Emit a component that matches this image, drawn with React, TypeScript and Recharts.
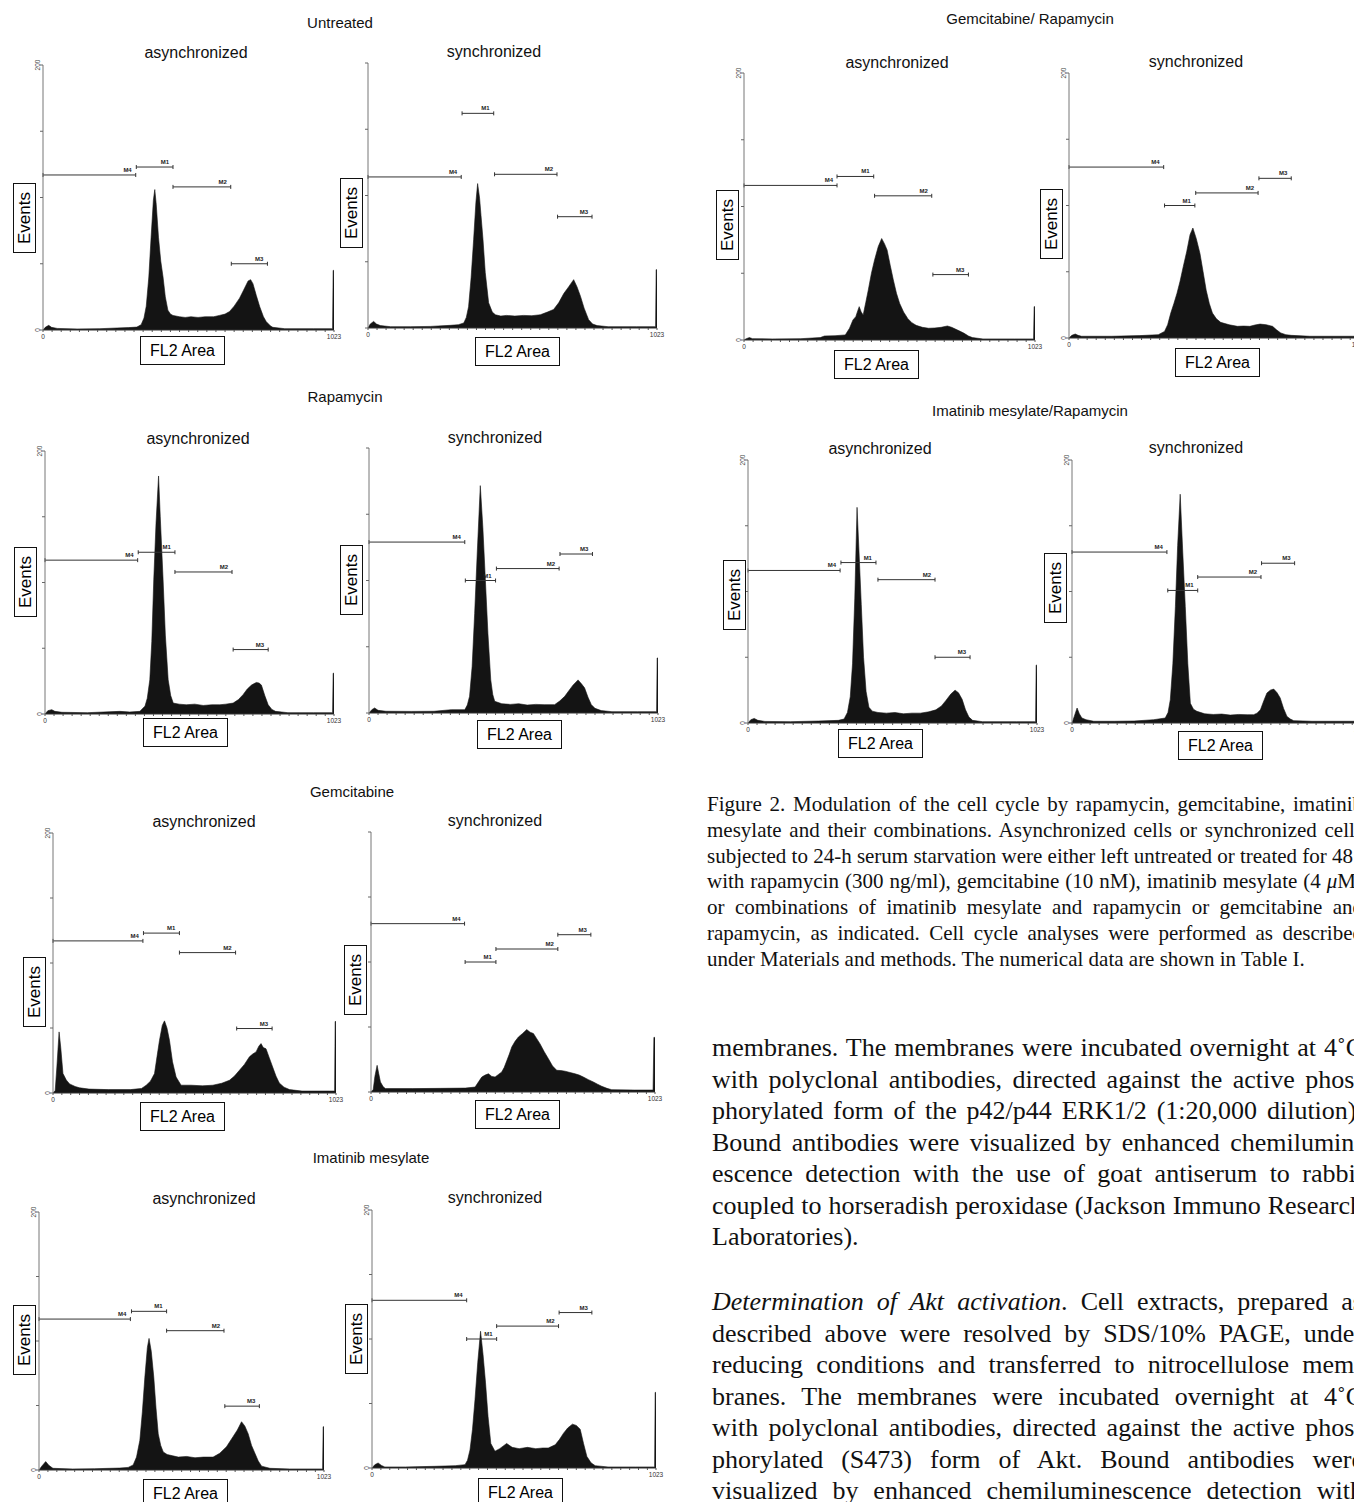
import React from 'react'
import { AreaChart, Area, XAxis, YAxis, ReferenceLine } from 'recharts'

// FL2-area histograms (channel, events)
const UNTREATED_ASYNC = [
  [0, 0], [8, 2], [20, 3.5], [30, 2], [50, 1.2], [120, 0.8], [200, 1], [260, 1.5], [300, 1.8], [330, 2.2],
  [345, 4], [355, 9], [363, 18], [372, 40], [380, 70], [388, 98], [393, 106], [398, 95], [406, 70], [414, 52],
  [422, 40], [430, 25], [439, 15], [448, 12], [457, 11], [480, 10], [500, 9.5], [520, 10], [545, 9.5], [570, 10],
  [600, 10], [620, 11], [640, 12], [656, 14], [672, 18], [691, 24], [705, 30], [721, 37], [730, 38], [738, 35],
  [750, 26], [762, 17.5], [775, 10], [785, 6.3], [800, 3], [808, 2], [850, 1], [950, 1], [1015, 1], [1018, 1],
  [1020, 45], [1023, 45],
]
const UNTREATED_SYNC = [
  [0, 0], [8, 3], [20, 5], [30, 3], [44, 1.8], [80, 1], [150, 1], [220, 1.2], [291, 2], [320, 2.5],
  [339, 3.8], [348, 8], [356, 16], [365, 38], [374, 67], [382, 95], [388, 109], [395, 98], [400, 85], [407, 67],
  [415, 42], [427, 19], [440, 12], [451, 10], [470, 9], [490, 9.5], [520, 9], [550, 9.5], [580, 9.3], [610, 10],
  [635, 12], [657, 14], [675, 19], [693, 26], [710, 31], [728, 36.5], [740, 31], [752, 24], [765, 15], [781, 6.3],
  [795, 3], [811, 1.8], [850, 1], [950, 1], [1015, 1], [1018, 1], [1020, 44], [1023, 44],
]
const RAPA_ASYNC = [
  [0, 0], [10, 2.5], [24, 3.3], [35, 2], [60, 1.3], [150, 1], [265, 2], [300, 1.5], [336, 2], [354, 6],
  [362, 12], [371, 26], [378, 55], [385, 102], [393, 145], [402, 181], [408, 150], [418, 102], [426, 60], [436, 26],
  [445, 14], [454, 8.3], [475, 7.5], [500, 7], [530, 7.5], [560, 6.5], [590, 7], [619, 7], [640, 7.5], [666, 8.3],
  [685, 11], [701, 14.7], [716, 19], [731, 22], [748, 24], [758, 23.5], [766, 22], [778, 14], [790, 7], [803, 3.5],
  [816, 2], [860, 1], [950, 1], [1015, 1], [1018, 1], [1020, 31], [1023, 31],
]
const RAPA_SYNC = [
  [0, 0], [10, 2.5], [20, 3.8], [32, 2], [60, 1.3], [150, 1.2], [230, 1.3], [291, 2.5], [339, 2.5], [348, 6],
  [356, 12.6], [365, 35], [374, 75], [383, 120], [394, 171.6], [403, 140], [412, 100], [421, 60], [431, 25], [438, 14],
  [445, 8.8], [470, 7], [500, 6.5], [530, 7], [560, 6], [590, 6.5], [620, 6.3], [657, 6.3], [675, 9], [693, 12.6],
  [708, 17], [722, 21], [740, 25], [752, 22], [763, 19], [775, 12], [787, 6.3], [800, 3.5], [822, 1.8], [860, 1],
  [950, 1], [1015, 1], [1018, 1], [1020, 41.5], [1023, 41.5],
]
const GEM_ASYNC = [
  [0, 0], [8, 2], [14, 20], [22, 47], [28, 35], [36, 15], [48, 10], [60, 7], [80, 5], [96, 4],
  [130, 3], [200, 2.6], [280, 2.6], [320, 3.5], [337, 6], [352, 9], [367, 15], [376, 28], [385, 40.6], [395, 52],
  [403, 55.5], [412, 50], [421, 40.6], [432, 24], [445, 12.3], [463, 6], [500, 6], [540, 5.5], [578, 6], [610, 7.5],
  [638, 9.8], [656, 13], [674, 17.5], [692, 22], [710, 27.8], [722, 30], [734, 31.6], [744, 36], [752, 38], [760, 35],
  [770, 34], [782, 27], [794, 20], [806, 13], [818, 7.7], [835, 4.5], [855, 2.6], [900, 1.5], [1000, 1.5], [1015, 1.5],
  [1018, 1.5], [1020, 55], [1023, 55],
]
const GEM_SYNC = [
  [0, 0], [8, 2], [14, 12], [22, 20.5], [28, 14], [34, 7.7], [44, 4], [52, 2.6], [150, 2.6], [250, 2.8],
  [340, 3], [375, 3.8], [388, 8], [399, 11.5], [411, 13], [423, 14], [435, 12], [447, 11.5], [459, 13.5], [471, 15.4],
  [480, 19], [489, 24], [498, 29], [507, 34.6], [519, 39], [531, 42.3], [546, 45], [561, 48], [573, 46], [585, 45],
  [597, 41], [609, 37], [624, 31], [639, 25.6], [654, 20], [669, 16.7], [684, 16.5], [699, 16], [717, 15], [735, 14],
  [750, 13], [765, 11.5], [783, 9.5], [801, 7.7], [816, 6], [831, 4.4], [850, 2.8], [867, 1.8], [950, 1.5], [1012, 1.5],
  [1016, 1.5], [1019, 42], [1023, 42],
]
const IMA_ASYNC = [
  [0, 0], [10, 3], [24, 6.5], [36, 3.5], [50, 1.3], [120, 0.8], [200, 1], [254, 1.3], [290, 1.5], [320, 2],
  [338, 3.9], [350, 10], [362, 23], [371, 45], [380, 72], [389, 95], [395, 102], [403, 92], [412, 72], [420, 48],
  [428, 28], [437, 19], [446, 14], [460, 12], [480, 11], [500, 10], [530, 10.5], [560, 9.5], [590, 10], [625, 10],
  [649, 13], [673, 18], [697, 26], [712, 31], [727, 37.4], [739, 34], [751, 28], [763, 19], [775, 13], [787, 7],
  [799, 3], [829, 1.3], [900, 0.8], [1015, 0.8], [1018, 0.8], [1020, 33.5], [1023, 33.5],
]
const IMA_SYNC = [
  [0, 0], [10, 2.5], [22, 3.9], [34, 2], [46, 0.8], [120, 0.8], [226, 1.3], [300, 1.8], [335, 2.6], [344, 6],
  [353, 14], [362, 30], [371, 53], [381, 82], [391, 106], [400, 88], [409, 66], [418, 40], [428, 19], [443, 13],
  [460, 15], [485, 19], [505, 16], [530, 15], [560, 16], [590, 15], [615, 15.5], [635, 15.5], [660, 18], [675, 22],
  [690, 27], [705, 31], [722, 34], [736, 33], [750, 30], [762, 19], [774, 9], [789, 4], [804, 1.8], [850, 0.8],
  [950, 0.8], [1015, 0.8], [1018, 0.8], [1020, 58.6], [1023, 58.6],
]
const GEMRAPA_ASYNC = [
  [0, 0], [8, 1], [19, 1.8], [30, 1], [100, 0.8], [200, 1], [268, 1.8], [283, 3], [320, 3.2], [356, 3.8],
  [371, 8.8], [383, 15], [393, 17.5], [400, 22], [405, 25], [412, 21], [419, 18.8], [428, 28], [437, 37.5], [448, 50],
  [459, 60], [472, 70], [484, 76], [494, 72], [503, 67.5], [514, 56], [525, 45], [536, 35], [547, 27.5], [561, 21],
  [576, 16], [590, 13], [605, 11], [627, 9.5], [649, 8.8], [671, 9], [693, 9.5], [715, 10.5], [730, 9.5], [745, 8],
  [760, 6.5], [774, 5], [789, 3], [803, 1.8], [840, 0.8], [950, 0.8], [1015, 0.8], [1018, 0.8], [1020, 25], [1023, 25],
]
const GEMRAPA_SYNC = [
  [0, 0], [10, 2], [22, 3], [32, 2], [44, 1.3], [150, 1.3], [250, 1.8], [315, 2.5], [337, 5], [348, 10],
  [359, 18.8], [370, 26], [381, 33.8], [392, 43], [403, 53.8], [415, 65], [427, 78], [437, 83], [449, 75], [462, 63.8],
  [473, 50], [484, 36], [495, 26], [506, 18.8], [520, 14.5], [535, 11.8], [565, 10], [594, 8.8], [616, 9], [638, 8.8],
  [656, 9.8], [674, 10.5], [696, 10], [718, 8.8], [733, 6], [747, 3.8], [765, 2.5], [784, 2], [850, 1.3], [1000, 1.3],
  [1023, 1.3],
]
const IMARAPA_ASYNC = [
  [0, 0], [10, 2.5], [22, 3.5], [35, 2], [60, 1.2], [150, 1], [250, 1.5], [320, 2], [340, 3], [352, 8],
  [362, 20], [370, 45], [378, 95], [386, 164], [393, 130], [401, 90], [409, 50], [418, 24], [428, 12], [440, 9],
  [460, 8], [490, 7.5], [520, 8], [550, 7], [580, 7.5], [610, 7.5], [640, 8.5], [665, 10], [685, 13], [700, 17],
  [718, 22], [733, 25], [745, 23], [758, 18], [770, 10], [782, 4.5], [795, 2], [830, 1], [950, 1], [1015, 1],
  [1018, 1], [1020, 44], [1023, 44],
]
const IMARAPA_SYNC = [
  [0, 0], [8, 5], [18, 11.4], [26, 7], [35, 3.8], [50, 2.5], [77, 1.3], [150, 1.3], [220, 1.5], [289, 2.5],
  [330, 3.8], [340, 8], [348, 17.7], [357, 45], [366, 88.6], [374, 135], [383, 174], [392, 130], [401, 88.6], [410, 45],
  [419, 15], [430, 10.5], [442, 8.9], [470, 7], [500, 6.5], [530, 6.8], [560, 6], [590, 6.5], [620, 6.3], [643, 6.3],
  [655, 7.5], [667, 10], [679, 17], [690, 22.8], [702, 25], [714, 25.8], [726, 23], [737, 19], [749, 11], [761, 5],
  [773, 3], [785, 1.8], [850, 1.3], [1000, 1.3], [1023, 1.3],
]

// marker gates: [name, from channel, to channel, level]
const GATES_UNTREATED_ASYNC = [['M4', 0, 326, 117], ['M1', 328, 457, 123], ['M2', 457, 660, 108], ['M3', 662, 789, 50]]
const GATES_UNTREATED_SYNC = [['M4', 0, 330, 114], ['M1', 333, 445, 162], ['M2', 448, 669, 116], ['M3', 671, 793, 84]]
const GATES_RAPA_ASYNC = [['M4', 0, 328, 117], ['M1', 330, 460, 123], ['M2', 460, 662, 108], ['M3', 666, 790, 49]]
const GATES_RAPA_SYNC = [['M4', 0, 339, 129], ['M1', 341, 448, 100], ['M2', 451, 673, 109], ['M3', 676, 791, 120]]
const GATES_GEM_ASYNC = [['M4', 0, 325, 117], ['M1', 327, 457, 123], ['M2', 457, 660, 108], ['M3', 664, 792, 49.6]]
const GATES_GEM_SYNC = [['M4', 0, 337, 129.5], ['M1', 339, 450, 100], ['M2', 450, 673, 110], ['M3', 673, 792, 121]]
const GATES_IMA_ASYNC = [['M4', 0, 328, 117], ['M1', 332, 458, 123], ['M2', 458, 664, 108], ['M3', 667, 791, 49.5]]
const GATES_IMA_SYNC = [['M4', 0, 341, 130], ['M1', 341, 449, 100], ['M2', 449, 672, 110], ['M3', 674, 792, 120.5]]
const GATES_GEMRAPA_ASYNC = [['M4', 0, 327, 115.8], ['M1', 327, 456, 122.5], ['M2', 459, 660, 108], ['M3', 664, 789, 49]]
const GATES_GEMRAPA_SYNC = [['M4', 0, 334, 129], ['M1', 337, 444, 100], ['M2', 447, 667, 109.5], ['M3', 670, 784, 120.5]]
const GATES_IMARAPA_ASYNC = [['M4', 0, 326, 116], ['M1', 329, 453, 122], ['M2', 460, 662, 109], ['M3', 662, 786, 50]]
const GATES_IMARAPA_SYNC = [['M4', 0, 336, 130], ['M1', 339, 445, 100.8], ['M2', 445, 669, 111], ['M3', 671, 788, 121.5]]

const X_TICKS = [0, 32, 64, 96, 128, 160, 192, 224, 256, 288, 320, 352, 384, 416, 448, 480, 512, 544, 576, 608, 640, 672, 704, 736, 768, 800, 832, 864, 896, 928, 960, 992, 1023]
const Y_TICKS = [0, 50, 100, 150, 200]

const GROUP_TITLES = ['Untreated', 'Rapamycin', 'Gemcitabine', 'Imatinib mesylate', 'Gemcitabine/ Rapamycin', 'Imatinib mesylate/Rapamycin']
const GROUP_TITLE_POS = [[340, 22], [345, 396], [352, 791], [371, 1157], [1030, 18], [1030, 410]]

const CAPTION_LINES = [
  'Figure 2. Modulation of the cell cycle by rapamycin, gemcitabine, imatinib',
  'mesylate and their combinations. Asynchronized cells or synchronized cells',
  'subjected to 24-h serum starvation were either left untreated or treated for 48 h',
  'with rapamycin (300 ng/ml), gemcitabine (10 nM), imatinib mesylate (4 \u03bcM)',
  'or combinations of imatinib mesylate and rapamycin or gemcitabine and',
  'rapamycin, as indicated. Cell cycle analyses were performed as described',
  'under Materials and methods. The numerical data are shown in Table I.',
]
const BODY_LINES_1 = [
  'membranes. The membranes were incubated overnight at 4\u02daC',
  'with polyclonal antibodies, directed against the active phos-',
  'phorylated form of the p42/p44 ERK1/2 (1:20,000 dilution).',
  'Bound antibodies were visualized by enhanced chemilumin-',
  'escence detection with the use of goat antiserum to rabbit',
  'coupled to horseradish peroxidase (Jackson Immuno Research',
  'Laboratories).',
]
const BODY_HEAD = 'Determination of Akt activation'
const BODY_LINES_2 = [
  '. Cell extracts, prepared as',
  'described above were resolved by SDS/10% PAGE, under',
  'reducing conditions and transferred to nitrocellulose mem-',
  'branes. The membranes were incubated overnight at 4\u02daC',
  'with polyclonal antibodies, directed against the active phos-',
  'phorylated (S473) form of Akt. Bound antibodies were',
  'visualized by enhanced chemiluminescence detection with',
]

// panel placement on the page (plot box in px, label boxes)
const PANELS = [
  { counts: UNTREATED_ASYNC, gates: GATES_UNTREATED_ASYNC, title: 'asynchronized', t: [196, 53], plot: [43, 334, 65, 330], ev: [13, 183], fl: [140, 336], yl: true },
  { counts: UNTREATED_SYNC, gates: GATES_UNTREATED_SYNC, title: 'synchronized', t: [494, 52], plot: [368, 657, 63, 328], ev: [340, 178], fl: [475, 337], yl: false },
  { counts: RAPA_ASYNC, gates: GATES_RAPA_ASYNC, title: 'asynchronized', t: [198, 439], plot: [45, 334, 451, 714], ev: [14, 547], fl: [143, 718], yl: true },
  { counts: RAPA_SYNC, gates: GATES_RAPA_SYNC, title: 'synchronized', t: [495, 438], plot: [369, 658, 448, 713], ev: [340, 545], fl: [477, 720], yl: false },
  { counts: GEM_ASYNC, gates: GATES_GEM_ASYNC, title: 'asynchronized', t: [204, 822], plot: [53, 336, 833, 1093], ev: [23, 957], fl: [140, 1102], yl: true },
  { counts: GEM_SYNC, gates: GATES_GEM_SYNC, title: 'synchronized', t: [495, 821], plot: [371, 655, 832, 1092], ev: [344, 945], fl: [475, 1100], yl: false },
  { counts: IMA_ASYNC, gates: GATES_IMA_ASYNC, title: 'asynchronized', t: [204, 1199], plot: [39, 324, 1212, 1470], ev: [13, 1305], fl: [143, 1479], yl: true },
  { counts: IMA_SYNC, gates: GATES_IMA_SYNC, title: 'synchronized', t: [495, 1198], plot: [372, 656, 1210, 1468], ev: [345, 1304], fl: [478, 1478], yl: true },
  { counts: GEMRAPA_ASYNC, gates: GATES_GEMRAPA_ASYNC, title: 'asynchronized', t: [897, 63], plot: [744, 1035, 73, 340], ev: [716, 190], fl: [834, 350], yl: true },
  { counts: GEMRAPA_SYNC, gates: GATES_GEMRAPA_SYNC, title: 'synchronized', t: [1196, 62], plot: [1069, 1359, 73, 338], ev: [1040, 189], fl: [1175, 348], yl: true },
  { counts: IMARAPA_ASYNC, gates: GATES_IMARAPA_ASYNC, title: 'asynchronized', t: [880, 449], plot: [748, 1037, 460, 723], ev: [723, 560], fl: [838, 729], yl: true },
  { counts: IMARAPA_SYNC, gates: GATES_IMARAPA_SYNC, title: 'synchronized', t: [1196, 448], plot: [1072, 1361, 460, 723], ev: [1044, 553], fl: [1178, 731], yl: true },
]

const SANS = '"Liberation Sans", Arial, sans-serif'
const NARROW = '"Liberation Sans Narrow", "Liberation Sans", Arial, sans-serif'
const SERIF = '"Liberation Serif", "Times New Roman", serif'
const INK = '#141414'
const PAD_L = 14
const PAD_T = 5
const PAD_R = 12
const PAD_B = 12

function XTick(props: any) {
  const { x, y, payload } = props
  if (payload.value !== 0 && payload.value !== 1023) return null
  return (
    <text x={x} y={y + 5} textAnchor="middle" fontSize={6.5} fontFamily={NARROW} fill="#333">
      {payload.value}
    </text>
  )
}

function YTick(props: any) {
  const { x, y, payload, show } = props
  if (!show || (payload.value !== 0 && payload.value !== 200)) return null
  return (
    <text x={x + 1} y={y} transform={`rotate(-90 ${x + 1} ${y})`} textAnchor="middle" fontSize={6.5} fontFamily={NARROW} fill="#444">
      {payload.value}
    </text>
  )
}

function GateShape(props: any) {
  const { x1, y1, x2, name } = props
  return (
    <g>
      <line x1={x1} y1={y1} x2={x2} y2={y1} stroke="#333" strokeWidth={1} />
      <line x1={x1} y1={y1 - 2} x2={x1} y2={y1 + 2} stroke="#333" strokeWidth={1} />
      <line x1={x2} y1={y1 - 2} x2={x2} y2={y1 + 2} stroke="#333" strokeWidth={1} />
      <text x={x2 - 4} y={y1 - 3} textAnchor="end" fontSize={6} fontWeight="bold" fontFamily={NARROW} fill="#222">
        {name}
      </text>
    </g>
  )
}

function Histogram({ spec }: { spec: any }) {
  const [xL, xR, yT, yB] = spec.plot
  const data = spec.counts.map(([x, y]: number[]) => ({ x, y }))
  return (
    <div style={{ position: 'absolute', left: xL - PAD_L, top: yT - PAD_T }}>
      <AreaChart
        width={xR - xL + PAD_L + PAD_R}
        height={yB - yT + PAD_T + PAD_B}
        data={data}
        margin={{ top: PAD_T, right: PAD_R, left: 0, bottom: 0 }}
      >
        <XAxis
          type="number"
          dataKey="x"
          domain={[0, 1023]}
          ticks={X_TICKS}
          interval={0}
          height={PAD_B}
          tickSize={2}
          tickLine={{ stroke: '#555' }}
          axisLine={{ stroke: '#333' }}
          tick={<XTick />}
        />
        <YAxis
          type="number"
          domain={[0, 200]}
          ticks={Y_TICKS}
          interval={0}
          width={PAD_L}
          tickSize={3}
          tickMargin={1}
          tickLine={{ stroke: '#666' }}
          axisLine={{ stroke: '#777' }}
          tick={<YTick show={spec.yl} />}
        />
        <Area
          type="linear"
          dataKey="y"
          stroke={INK}
          strokeWidth={0.6}
          fill={INK}
          fillOpacity={1}
          isAnimationActive={false}
        />
        {spec.gates.map(([name, from, to, level]: any[]) => (
          <ReferenceLine
            key={name}
            segment={[{ x: from, y: level }, { x: to, y: level }]}
            shape={(p: any) => <GateShape {...p} name={name} />}
          />
        ))}
      </AreaChart>
    </div>
  )
}

function Centered({ x, y, size, children }: any) {
  return (
    <div
      style={{
        position: 'absolute', left: x, top: y, transform: 'translate(-50%, -50%)',
        whiteSpace: 'nowrap', fontSize: size, lineHeight: 1, color: '#111', fontFamily: SANS,
      }}
    >
      {children}
    </div>
  )
}

function EventsBox({ x, y }: { x: number; y: number }) {
  return (
    <div
      style={{
        position: 'absolute', left: x, top: y, width: 21, height: 68, border: '1.3px solid #111',
        display: 'flex', alignItems: 'center', justifyContent: 'center', background: '#fff',
      }}
    >
      <span style={{ writingMode: 'vertical-rl', transform: 'rotate(180deg)', fontSize: 17, fontFamily: SANS, lineHeight: 1 }}>
        Events
      </span>
    </div>
  )
}

function FlBox({ x, y }: { x: number; y: number }) {
  return (
    <div
      style={{
        position: 'absolute', left: x, top: y, width: 83, height: 27, border: '1.3px solid #111',
        display: 'flex', alignItems: 'center', justifyContent: 'center', background: '#fff',
        fontSize: 16, fontFamily: SANS, lineHeight: 1,
      }}
    >
      FL2 Area
    </div>
  )
}

function JLine({ children, last, size, lh }: any) {
  return (
    <div style={{ whiteSpace: 'nowrap', textAlign: 'justify', textAlignLast: last ? 'left' : 'justify', fontSize: size, lineHeight: `${lh}px`, height: lh }}>
      {children}
    </div>
  )
}

export default function App() {
  return (
    <div style={{ position: 'absolute', left: 0, top: 0, width: 1354, height: 1502, overflow: 'hidden', background: '#fff' }}>
      {GROUP_TITLES.map((t, i) => (
        <Centered key={t} x={GROUP_TITLE_POS[i][0]} y={GROUP_TITLE_POS[i][1]} size={15}>{t}</Centered>
      ))}
      {PANELS.map((p, i) => (
        <React.Fragment key={i}>
          <Centered x={p.t[0]} y={p.t[1]} size={16}>{p.title}</Centered>
          <Histogram spec={p} />
          <EventsBox x={p.ev[0]} y={p.ev[1]} />
          <FlBox x={p.fl[0]} y={p.fl[1]} />
        </React.Fragment>
      ))}
      <div style={{ position: 'absolute', left: 707, top: 792, width: 656, fontFamily: SERIF, color: '#111' }}>
        {CAPTION_LINES.map((l, i) => (
          <JLine key={i} size={21} lh={25.8} last={i === CAPTION_LINES.length - 1}>
            {l.includes('\u03bc') ? (
              <>
                {l.split('\u03bc')[0]}<i>{'\u03bc'}</i>{l.split('\u03bc')[1]}
              </>
            ) : l}
          </JLine>
        ))}
      </div>
      <div style={{ position: 'absolute', left: 712, top: 1032, width: 651, fontFamily: SERIF, color: '#111' }}>
        {BODY_LINES_1.map((l, i) => (
          <JLine key={i} size={26} lh={31.5} last={i === BODY_LINES_1.length - 1}>{l}</JLine>
        ))}
        <div style={{ height: 33.5 }} />
        {BODY_LINES_2.map((l, i) => (
          <JLine key={i} size={26} lh={31.5} last={false}>
            {i === 0 ? (<><i>{BODY_HEAD}</i>{l}</>) : l}
          </JLine>
        ))}
      </div>
    </div>
  )
}
